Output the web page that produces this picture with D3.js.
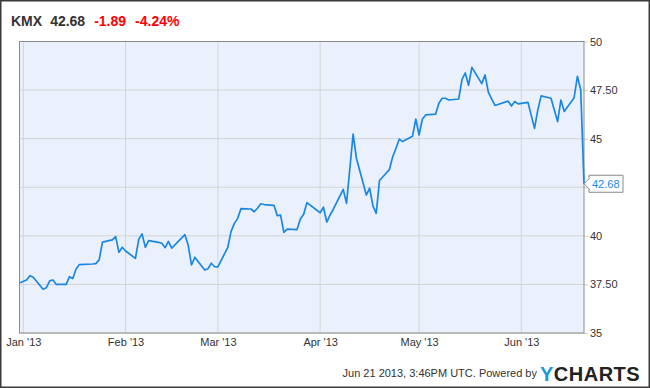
<!DOCTYPE html>
<html><head><meta charset="utf-8">
<script src="https://cdn.jsdelivr.net/npm/d3@7/dist/d3.min.js"></script>
<style>
html,body{margin:0;padding:0;background:#fff;}
svg{display:block;font-family:"Liberation Sans",Arial,sans-serif;}
</style></head>
<body>
<svg id="c" width="650" height="388"></svg>
<script>
const dates = ["2012-12-31","2013-01-02","2013-01-03","2013-01-04","2013-01-07","2013-01-08","2013-01-09","2013-01-10","2013-01-11","2013-01-14","2013-01-15","2013-01-16","2013-01-17","2013-01-18","2013-01-22","2013-01-23","2013-01-24","2013-01-25","2013-01-28","2013-01-29","2013-01-30","2013-01-31","2013-02-01","2013-02-04","2013-02-05","2013-02-06","2013-02-07","2013-02-08","2013-02-11","2013-02-12","2013-02-13","2013-02-14","2013-02-15","2013-02-19","2013-02-20","2013-02-21","2013-02-22","2013-02-25","2013-02-26","2013-02-27","2013-02-28","2013-03-01","2013-03-04","2013-03-05","2013-03-06","2013-03-07","2013-03-08","2013-03-11","2013-03-12","2013-03-13","2013-03-14","2013-03-15","2013-03-18","2013-03-19","2013-03-20","2013-03-21","2013-03-22","2013-03-25","2013-03-26","2013-03-27","2013-03-28","2013-04-01","2013-04-02","2013-04-03","2013-04-04","2013-04-05","2013-04-08","2013-04-09","2013-04-10","2013-04-11","2013-04-12","2013-04-15","2013-04-16","2013-04-17","2013-04-18","2013-04-19","2013-04-22","2013-04-23","2013-04-24","2013-04-25","2013-04-26","2013-04-29","2013-04-30","2013-05-01","2013-05-02","2013-05-03","2013-05-06","2013-05-07","2013-05-08","2013-05-09","2013-05-10","2013-05-13","2013-05-14","2013-05-15","2013-05-16","2013-05-17","2013-05-20","2013-05-21","2013-05-22","2013-05-23","2013-05-24","2013-05-28","2013-05-29","2013-05-30","2013-05-31","2013-06-03","2013-06-04","2013-06-05","2013-06-06","2013-06-07","2013-06-10","2013-06-11","2013-06-12","2013-06-13","2013-06-14","2013-06-17","2013-06-18","2013-06-19","2013-06-20"];
const prices = [37.59,37.73,37.95,37.87,37.25,37.33,37.68,37.73,37.50,37.50,37.90,37.80,38.29,38.52,38.55,38.57,38.76,39.68,39.79,39.96,39.15,39.41,39.22,38.84,39.82,40.10,39.41,39.75,39.66,39.62,39.39,39.72,39.37,40.06,39.51,38.50,38.90,38.24,38.31,38.59,38.41,38.40,39.41,40.23,40.64,40.90,41.40,41.38,41.24,41.42,41.65,41.61,41.57,41.04,41.07,40.18,40.35,40.32,40.87,41.11,41.71,41.19,41.47,40.71,41.07,41.37,42.39,41.67,43.45,45.23,43.99,42.10,42.45,41.54,41.16,42.85,43.41,44.07,44.51,44.98,44.85,45.12,46.01,45.19,46.01,46.22,46.26,46.82,47.08,47.08,46.99,47.04,48.04,48.38,47.75,48.67,47.83,48.28,47.39,47.05,46.71,46.93,46.68,46.91,46.79,46.87,46.20,45.53,46.48,47.20,47.08,46.48,45.88,46.99,46.40,47.11,48.21,47.52,42.68];
const xTickDates = ["2013-01-01","2013-02-01","2013-03-01","2013-04-01","2013-05-01","2013-06-01"];
const xTickLabels = ["Jan '13","Feb '13","Mar '13","Apr '13","May '13","Jun '13"];
const yTickValues = [35,37.5,40,42.5,45,47.5,50];
const yTickLabels = ["35","37.50","40","","45","47.50","50"];
const header = {ticker:"KMX", last:"42.68", change:"-1.89", pct:"-4.24%"};
const footerText = "Jun 21 2013, 3:46PM UTC.  Powered by";

const parse = d3.utcParse("%Y-%m-%d");
const data = dates.map((d,i)=>({date:parse(d), value:prices[i]}));

const svg = d3.select("#c");
const L=20, R=584, T=41.5, B=333;

const x = d3.scaleUtc().domain([parse("2012-12-31"), parse("2013-06-20")]).range([L,R]);
const y = d3.scaleLinear().domain([35,50]).range([B,T]);

// outer frame
svg.append("rect").attr("x",0.75).attr("y",0.75).attr("width",648.5).attr("height",386.5)
  .attr("fill","#fff").attr("stroke","#3a3a3a").attr("stroke-width",1.5);

// header
const h = svg.append("text").attr("x",11).attr("y",26).attr("font-size",14).attr("font-weight","bold");
h.append("tspan").attr("fill","#333").text(header.ticker);
h.append("tspan").attr("fill","#333").attr("dx",8).text(header.last);
h.append("tspan").attr("fill","#f00").attr("dx",9).text(header.change);
h.append("tspan").attr("fill","#f00").attr("dx",9).text(header.pct);

// plot bg
svg.append("rect").attr("x",L).attr("y",T).attr("width",R-L).attr("height",B-T).attr("fill","#eaf1fc");

// horizontal grid + right ticks
const yAxis = svg.append("g").attr("transform",`translate(${R},0)`)
  .call(d3.axisRight(y).tickValues(yTickValues).tickSize(4).tickPadding(2)
    .tickFormat((d,i)=>yTickLabels[i]));
yAxis.select(".domain").remove();
yAxis.selectAll("line").attr("stroke","#cfcfcf");
yAxis.selectAll("text").attr("fill","#333").attr("font-size",11).attr("font-family","Liberation Sans, Arial, sans-serif");

svg.append("g").selectAll("line").data(yTickValues).join("line")
  .attr("x1",L).attr("x2",R).attr("y1",d=>y(d)).attr("y2",d=>y(d))
  .attr("stroke","#d4d4d4").attr("stroke-width",1);

// vertical grid + x labels
const xAxis = svg.append("g").attr("transform",`translate(0,${B})`)
  .call(d3.axisBottom(x).tickValues(xTickDates.map(parse)).tickSize(0).tickPadding(5)
    .tickFormat((d,i)=>xTickLabels[i]));
xAxis.select(".domain").remove();
xAxis.selectAll("text").attr("fill","#333").attr("font-size",11).attr("font-family","Liberation Sans, Arial, sans-serif");

svg.append("g").selectAll("line").data(xTickDates.map(parse)).join("line")
  .attr("x1",d=>x(d)).attr("x2",d=>x(d)).attr("y1",T).attr("y2",B)
  .attr("stroke","#d4d4d4").attr("stroke-width",1);

// plot border
svg.append("rect").attr("x",L-0.5).attr("y",T).attr("width",R-L+0.5).attr("height",B-T)
  .attr("fill","none").attr("stroke","#8c8c8c").attr("stroke-width",1);

// line
svg.append("path").datum(data)
  .attr("d", d3.line().x(d=>x(d.date)).y(d=>y(d.value)))
  .attr("fill","none").attr("stroke","#1a88e3").attr("stroke-width",1.7).attr("stroke-linejoin","round");

// callout
const last = data[data.length-1];
const cx = x(last.date), cy = y(last.value);
svg.append("path")
  .attr("d",`M${cx},${cy} L${cx+5},${cy-5} L${cx+5},${cy-8.5} L${cx+39},${cy-8.5} L${cx+39},${cy+8.5} L${cx+5},${cy+8.5} L${cx+5},${cy+5} Z`)
  .attr("fill","#fff").attr("stroke","#888").attr("stroke-width",1);
svg.append("text").attr("x",cx+8).attr("y",cy+4).attr("font-size",11).attr("fill","#1a88e3")
  .text(d3.format(".2f")(last.value));

// footer
svg.append("text").attr("x",537).attr("y",377).attr("text-anchor","end").attr("font-size",11).attr("fill","#333")
  .text(footerText);
const logo = svg.append("text").attr("x",540).attr("y",381).attr("font-size",20).attr("font-weight","bold").attr("letter-spacing",0.5);
logo.append("tspan").attr("fill","#1a9ad6").text("Y");
logo.append("tspan").attr("fill","#222").text("CHARTS");
</script>
</body></html>
